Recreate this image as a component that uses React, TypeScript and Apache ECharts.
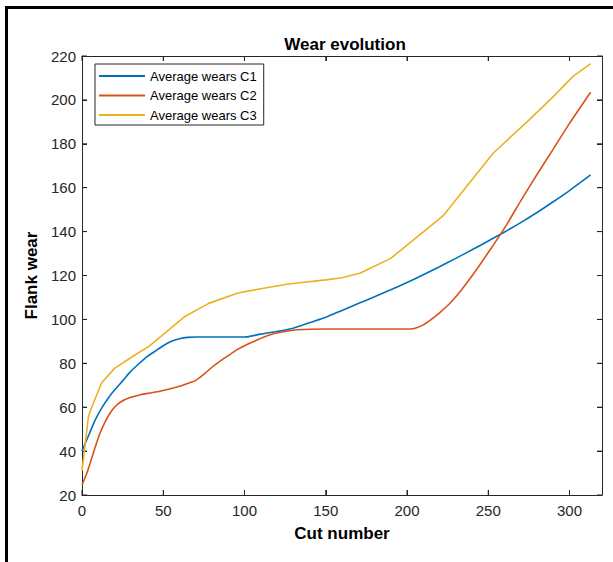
import React, { useEffect, useRef } from "react";
import * as echarts from "echarts";

const seriesNames = ["Average wears C1", "Average wears C2", "Average wears C3"];

const c1: [number, number][] = [
  [0, 40], [4, 47], [8, 54], [12, 59.5], [16, 64], [20, 67.8], [25, 72], [30, 76.3],
  [35, 79.8], [40, 83], [45, 85.5], [50, 88], [55, 90], [60, 91.2], [65, 91.8], [70, 92],
  [80, 92], [90, 92], [100, 92], [110, 93.3], [120, 94.5], [130, 96], [140, 98.5],
  [150, 101], [160, 104.1], [170, 107.2], [180, 110.3], [190, 113.5], [200, 116.8],
  [210, 120.3], [220, 124], [230, 127.8], [240, 131.7], [250, 135.7], [260, 139.8], [270, 144.1],
  [280, 148.7], [290, 153.6], [300, 158.7], [313, 165.8],
];

const c2: [number, number][] = [
  [0, 24.5], [3, 30], [5, 34.5], [8, 41.5], [11, 48], [14, 53], [17, 57], [20, 60],
  [24, 62.5], [30, 64.5], [36, 65.7], [42, 66.5], [48, 67.3], [55, 68.5], [60, 69.5],
  [65, 70.8], [70, 72.2], [75, 75], [80, 78.2], [85, 81], [90, 83.5], [95, 86], [100, 88],
  [106, 90], [112, 92], [118, 93.5], [125, 94.5], [131, 95.2], [140, 95.5], [150, 95.6],
  [170, 95.6], [190, 95.6], [200, 95.6], [205, 96], [210, 97.5], [215, 100], [220, 103],
  [226, 107], [232, 112], [238, 117.8], [244, 124], [250, 130.5], [256, 137], [262, 144],
  [270, 154], [280, 166], [290, 177.6], [300, 189.3], [313, 203.5],
];

const c3: [number, number][] = [
  [0, 31], [4, 56], [6, 60], [12, 71], [20, 77.7], [33, 84], [41, 87.6], [51, 93.7],
  [63, 101.2], [78, 107.3], [96, 112], [110, 114], [127, 116.1], [150, 118], [160, 119],
  [171, 121], [190, 127.8], [222, 147], [253, 175.7], [275, 190.8], [290, 201.5],
  [302, 210.6], [313, 216.5],
];

const xTickValues = [0, 50, 100, 150, 200, 250, 300];
const yTickValues = [20, 40, 60, 80, 100, 120, 140, 160, 180, 200, 220];

const colors = ["#0072BD", "#D95319", "#EDB120"];
const xRange = [0, 320, 50];
const yRange = [20, 220, 20];

const font = "'Liberation Sans', Arial, sans-serif";
const axisColor = "#262626";
const TICK = 5;

function axisBase(range: number[]) {
  return {
    type: "value",
    min: range[0],
    max: range[1],
    interval: range[2],
    axisLine: { show: true, onZero: false, lineStyle: { color: axisColor, width: 1 } },
    axisTick: { show: true, inside: true, length: TICK, lineStyle: { color: axisColor, width: 1 } },
    splitLine: { show: false },
  };
}

export default function App() {
  const ref = useRef<HTMLDivElement>(null);
  useEffect(() => {
    if (!ref.current) return;
    const chart = echarts.init(ref.current, null, { renderer: "svg" });
    const tickStyle = { stroke: axisColor, lineWidth: 1 };
    chart.setOption({
      animation: false,
      color: colors,
      textStyle: { fontFamily: font },
      title: {
        text: "Wear evolution",
        left: 340,
        textAlign: "center",
        top: 31,
        textStyle: { fontSize: 17, fontWeight: "bold", color: "#000", fontFamily: font },
      },
      legend: {
        orient: "vertical",
        left: 95,
        top: 64,
        padding: [5, 7, 3, 4],
        itemGap: 5.5,
        itemWidth: 46,
        itemHeight: 2,
        icon: "rect",
        borderColor: "#262626",
        borderWidth: 1,
        backgroundColor: "#fff",
        textStyle: { fontSize: 13, color: "#000", fontFamily: font, lineHeight: 14 },
        data: seriesNames,
      },
      grid: { left: 82, top: 56, right: 11, bottom: 67 },
      xAxis: [
        {
          ...axisBase(xRange),
          position: "bottom",
          name: "Cut number",
          nameLocation: "middle",
          nameGap: 30,
          nameTextStyle: { fontSize: 17, fontWeight: "bold", color: "#000", fontFamily: font },
          axisLabel: {
            fontSize: 15,
            color: axisColor,
            margin: 8,
            fontFamily: font,
            formatter: (v: number) => (v % 50 === 0 ? String(v) : ""),
          },
        },
        {
          ...axisBase(xRange),
          position: "top",
          axisLabel: { show: false },
        },
      ],
      yAxis: [
        {
          ...axisBase(yRange),
          position: "left",
          name: "Flank wear",
          nameLocation: "middle",
          nameGap: 39,
          nameRotate: 90,
          nameTextStyle: { fontSize: 17, fontWeight: "bold", color: "#000", fontFamily: font },
          axisLabel: { fontSize: 15, color: axisColor, margin: 6, fontFamily: font },
        },
        {
          ...axisBase(yRange),
          position: "right",
          axisLabel: { show: false },
        },
      ],
      series: [
        { name: seriesNames[0], type: "line", data: c1, smooth: 0.25, symbol: "none", lineStyle: { width: 1.6 } },
        { name: seriesNames[1], type: "line", data: c2, smooth: 0.25, symbol: "none", lineStyle: { width: 1.6 } },
        { name: seriesNames[2], type: "line", data: c3, smooth: false, symbol: "none", lineStyle: { width: 1.6 } },
        {
          type: "custom",
          name: "xticks",
          silent: true,
          clip: false,
          data: xTickValues.map((v) => [v, yRange[0]]),
          renderItem: (params: any, api: any) => {
            const x = api.value(0);
            const b = api.coord([x, yRange[0]]);
            const t = api.coord([x, yRange[1]]);
            return {
              type: "group",
              children: [
                { type: "line", shape: { x1: b[0], y1: b[1], x2: b[0], y2: b[1] - TICK }, style: tickStyle },
                { type: "line", shape: { x1: t[0], y1: t[1], x2: t[0], y2: t[1] + TICK }, style: tickStyle },
              ],
            };
          },
        },
        {
          type: "custom",
          name: "yticks",
          silent: true,
          clip: false,
          data: yTickValues.map((v) => [xRange[0], v]),
          renderItem: (params: any, api: any) => {
            const y = api.value(1);
            const l = api.coord([xRange[0], y]);
            const r = api.coord([xRange[1], y]);
            return {
              type: "group",
              children: [
                { type: "line", shape: { x1: l[0], y1: l[1], x2: l[0] + TICK, y2: l[1] }, style: tickStyle },
                { type: "line", shape: { x1: r[0], y1: r[1], x2: r[0] - TICK, y2: r[1] }, style: tickStyle },
              ],
            };
          },
        },
      ],
      graphic: [
        { type: "line", shape: { x1: 6.5, y1: 7.5, x2: 613, y2: 7.5 }, style: { stroke: "#000", lineWidth: 3 } },
        { type: "line", shape: { x1: 6.5, y1: 6, x2: 6.5, y2: 562 }, style: { stroke: "#000", lineWidth: 3 } },
      ],
    });
    return () => chart.dispose();
  }, []);
  return (
    <div
      ref={ref}
      style={{ position: "fixed", left: 0, top: 0, width: 613, height: 562, background: "#fff" }}
    />
  );
}
